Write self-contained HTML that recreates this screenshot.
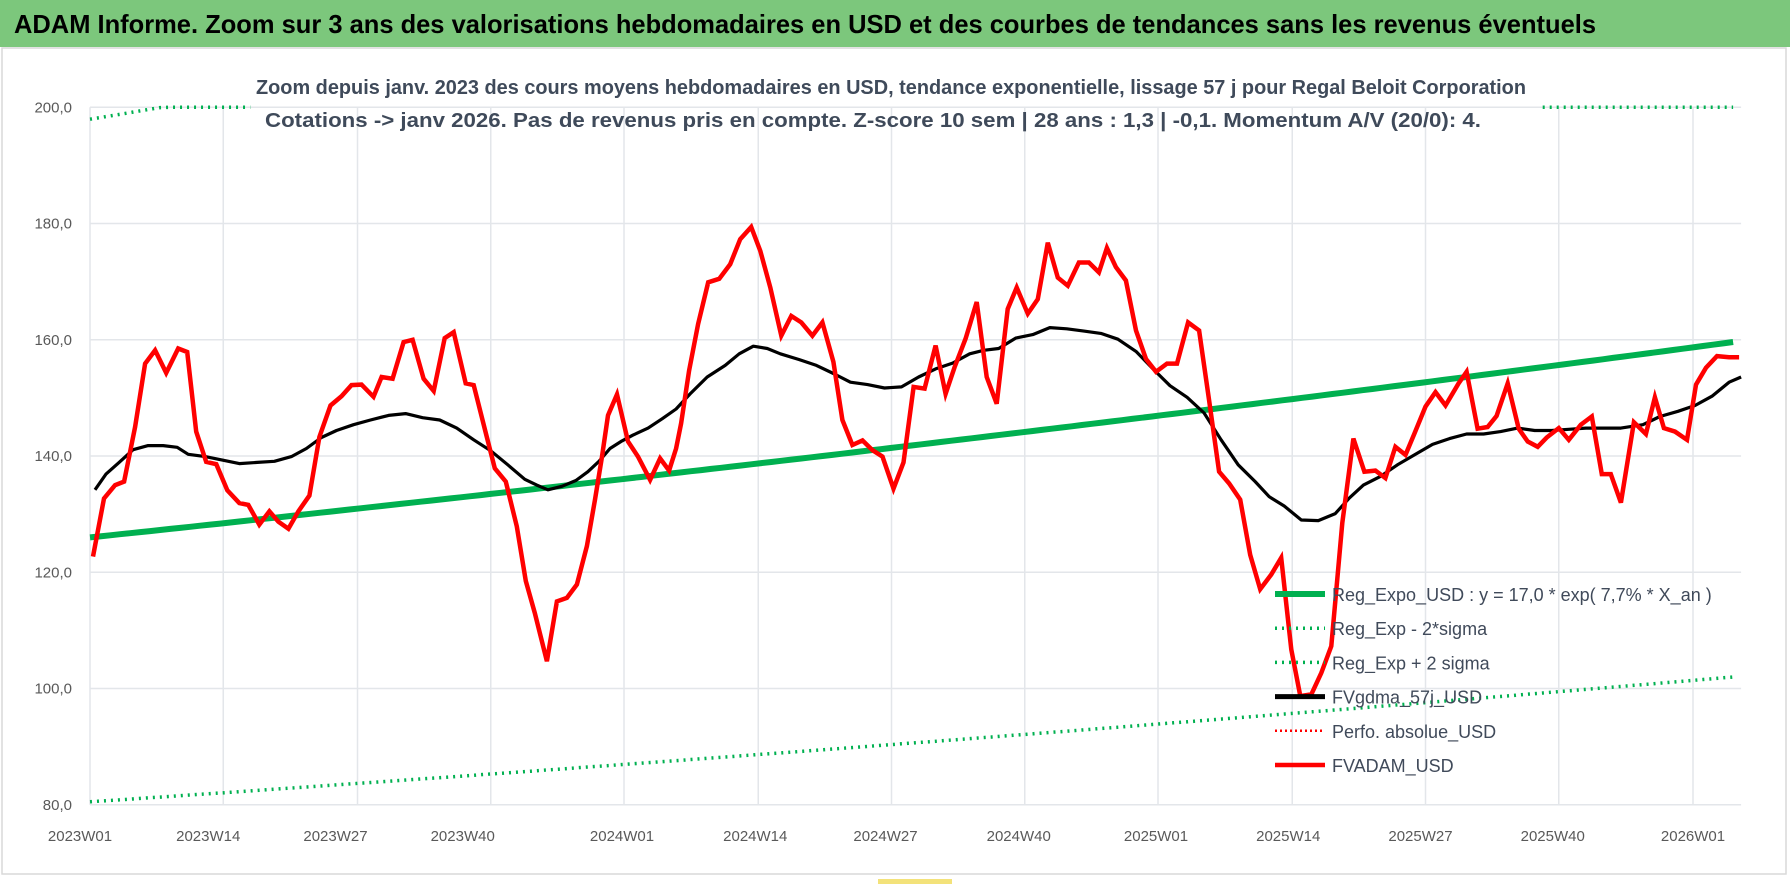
<!DOCTYPE html>
<html><head><meta charset="utf-8"><style>
html,body{margin:0;padding:0;background:#fff;}
svg{display:block;font-family:"Liberation Sans",sans-serif;}
</style></head><body>
<svg id="chart" width="1790" height="886" viewBox="0 0 1790 886">
<rect x="0" y="0" width="1790" height="886" fill="#fff"/>
<rect x="0" y="0" width="1790" height="47" fill="#7cc77c"/>
<text x="14" y="33" font-size="26" font-weight="bold" fill="#000" textLength="1582" lengthAdjust="spacingAndGlyphs">ADAM Informe. Zoom sur 3 ans des valorisations hebdomadaires en USD et des courbes de tendances sans les revenus éventuels</text>
<rect x="2" y="48" width="1784" height="826" fill="none" stroke="#d9d9d9" stroke-width="1.5"/>
<rect x="878" y="879" width="74" height="5" fill="#f3e27a"/>
<g id="grid"></g>
<text x="891" y="94" font-size="20" font-weight="bold" fill="#3f4a5a" text-anchor="middle" textLength="1270" lengthAdjust="spacingAndGlyphs">Zoom depuis janv. 2023 des cours moyens hebdomadaires en USD, tendance exponentielle, lissage 57 j pour Regal Beloit Corporation</text>
<text x="873" y="127" font-size="20" font-weight="bold" fill="#3f4a5a" text-anchor="middle" textLength="1216" lengthAdjust="spacingAndGlyphs">Cotations -&gt; janv 2026. Pas de revenus pris en compte. Z-score 10 sem | 28 ans : 1,3 | -0,1. Momentum A/V (20/0): 4.</text>
<g id="series"></g>
<g id="legend"></g>
</svg>
<script>
const yTicks = [80,100,120,140,160,180,200];
const xTickLabels = ["2023W01","2023W14","2023W27","2023W40","2024W01","2024W14","2024W27","2024W40","2025W01","2025W14","2025W27","2025W40","2026W01"];
const xTickIdx = [0,12.8,25.5,38.2,54.1,67.4,80.4,93.7,107.4,120.6,133.8,147.0,161];
const xGridIdx = [1,14.3,27.7,41.0,54.3,67.7,81.0,94.3,107.6,121.0,134.3,147.6,161.0];
const redWeeks = [1.3,2.4,3.5,4.4,5.5,6.5,7.5,8.6,9.8,10.7,11.6,12.6,13.6,14.7,15.9,16.8,17.9,18.9,19.8,20.8,21.8,22.9,23.9,25.0,26.1,27.1,28.1,29.3,30.1,31.2,32.3,33.2,34.3,35.3,36.4,37.3,38.5,39.3,40.6,41.4,42.5,43.6,44.5,45.4,46.6,47.6,48.6,49.6,50.6,51.4,52.1,52.7,53.6,54.7,55.7,56.9,57.9,58.8,59.5,60.0,60.8,61.7,62.7,63.8,64.9,65.9,67.0,67.9,68.9,70.0,71.0,72.0,73.1,74.1,75.2,76.1,77.1,78.1,79.1,80.1,81.2,82.2,83.2,84.3,85.4,86.4,87.3,88.4,89.5,90.5,91.5,92.6,93.5,94.6,95.6,96.6,97.6,98.6,99.7,100.7,101.7,102.5,103.4,104.4,105.4,106.4,107.4,108.5,109.5,110.6,111.7,112.7,113.7,114.7,115.8,116.8,117.8,118.9,119.9,120.9,121.8,122.9,123.9,124.9,126.0,127.1,128.2,129.3,130.3,131.3,132.3,133.2,134.3,135.3,136.3,137.6,138.4,139.5,140.5,141.4,142.5,143.6,144.5,145.5,146.4,147.6,148.6,149.8,150.9,151.9,152.8,153.8,155.1,156.3,157.2,158.1,159.2,160.4,161.3,162.3,163.4,164.6,165.6];
const redValues = [122.7,132.7,135.0,135.6,145.0,155.9,158.2,154.3,158.5,157.9,144.2,139.0,138.6,134.1,131.9,131.6,128.2,130.5,128.7,127.5,130.5,133.2,143.3,148.7,150.3,152.2,152.3,150.2,153.6,153.3,159.6,160.0,153.3,151.2,160.3,161.3,152.5,152.2,143.3,137.9,135.6,127.9,118.5,113.0,104.7,115.0,115.6,117.9,124.5,132.5,139.9,147.0,150.6,142.5,139.9,135.9,139.6,137.5,141.3,145.6,154.7,162.7,169.9,170.5,173.0,177.3,179.4,175.3,169.0,160.7,164.1,163.0,160.7,163.0,156.2,146.2,141.9,142.7,141.0,139.9,134.4,138.9,151.9,151.6,159.0,150.7,155.3,160.2,166.5,153.6,149.0,165.3,169.0,164.5,167.0,176.7,170.7,169.3,173.3,173.3,171.6,175.8,172.5,170.2,161.6,156.7,154.5,155.9,155.9,163.0,161.6,149.6,137.3,135.3,132.5,123.0,117.1,119.6,122.5,106.7,98.7,99.0,102.7,107.3,128.5,143.0,137.3,137.5,136.2,141.6,140.2,143.9,148.5,151.0,148.7,152.5,154.5,144.7,145.0,146.9,152.5,144.7,142.5,141.6,143.2,144.8,142.8,145.4,146.8,136.9,136.9,132.0,145.8,143.8,150.1,144.8,144.2,142.8,152.3,155.2,157.2,157.0,157.0];
const maWeeks = [1.5,2.6,3.9,5.3,6.8,8.3,9.7,10.8,12.5,14.2,15.9,17.7,19.4,21.1,22.6,24.1,25.6,27.3,29.0,30.8,32.5,34.2,35.9,37.6,39.3,41.0,42.7,44.4,45.6,46.7,48.1,49.5,50.7,51.8,52.9,54.1,55.2,56.7,58.1,59.5,60.9,62.6,64.4,65.8,67.2,68.6,69.9,71.8,73.5,75.2,76.9,78.6,80.3,82.0,83.7,85.4,87.1,88.8,90.2,91.7,93.4,95.1,96.8,98.5,100.2,101.9,103.6,105.4,107.1,108.8,110.5,112.2,113.9,115.6,117.3,118.7,120.2,121.9,123.6,125.3,126.7,128.1,129.8,131.5,133.3,135.0,136.7,138.4,140.1,141.8,143.5,145.2,146.9,148.6,150.3,152.1,153.8,156.0,157.7,159.5,161.2,162.9,164.6,165.8];
const maValues = [134.2,136.9,138.9,141.1,141.8,141.8,141.5,140.3,139.9,139.3,138.7,138.9,139.1,139.9,141.3,143.2,144.4,145.4,146.2,147.0,147.3,146.6,146.2,144.8,142.8,140.9,138.5,136.0,135.0,134.2,134.8,135.8,137.3,139.1,141.3,142.6,143.6,144.8,146.4,148.1,150.7,153.6,155.6,157.6,158.9,158.5,157.6,156.6,155.6,154.2,152.7,152.3,151.7,151.9,153.6,155.0,156.0,157.6,158.2,158.5,160.3,160.9,162.1,161.9,161.5,161.1,160.1,158.0,155.0,152.1,150.1,147.4,142.8,138.5,135.6,133.0,131.4,129.0,128.9,130.1,132.8,135.0,136.5,138.5,140.3,142.0,143.0,143.8,143.8,144.2,144.8,144.4,144.4,144.6,144.8,144.8,144.8,145.4,146.8,147.7,148.7,150.3,152.7,153.6];
const regStart = 126.0, regEnd = 159.8, firstWeek = 1, lastWeek = 165.8;
const bandLowFactor = 0.639, bandHighFactor = 1.571;
const legendLabels = ["Reg_Expo_USD : y = 17,0 * exp( 7,7% *  X_an )","Reg_Exp - 2*sigma","Reg_Exp + 2 sigma","FVgdma_57j_USD","Perfo. absolue_USD","FVADAM_USD"];

const NS="http://www.w3.org/2000/svg";
const X0=80, X1=1693, I1=161, Y0=107.3, PXV=697.5/120;
function xs(w){return X0+w*(X1-X0)/I1;}
function ys(v){return Y0+(200-v)*PXV;}
function mk(tag,attrs,parent){const e=document.createElementNS(NS,tag);for(const k in attrs)e.setAttribute(k,attrs[k]);parent.appendChild(e);return e;}
const grid=document.getElementById('grid'), series=document.getElementById('series'), legend=document.getElementById('legend');
const xEnd=xs(lastWeek);
yTicks.forEach(v=>{
  const l=mk('line',{x1:xs(xGridIdx[0]),x2:xEnd,y1:ys(v),y2:ys(v),stroke:'#e3e6ea','stroke-width':1.5},grid);
  
  
  const t=mk('text',{x:72,y:ys(v)+5,'font-size':15,fill:'#595959','text-anchor':'end'},grid);
  t.textContent=v.toFixed(1).replace('.',',');
  
  
});
xGridIdx.forEach(w=>{
  const l=mk('line',{x1:xs(w),x2:xs(w),y1:ys(200),y2:ys(80),stroke:'#e3e6ea','stroke-width':1.5},grid);
  
  
});
xTickIdx.forEach((w,i)=>{
  const t=mk('text',{x:xs(w),y:841,'font-size':15,fill:'#595959','text-anchor':'middle'},grid);
  t.textContent=xTickLabels[i];
  
  
});
function reg(w){return regStart*Math.pow(regEnd/regStart,(w-firstWeek)/(lastWeek-firstWeek));}
function pathFrom(ws,vs){return ws.map((w,i)=>(i?'L':'M')+xs(w).toFixed(1)+','+ys(vs[i]).toFixed(1)).join('');}
const regW=[],regV=[],lowV=[];
for(let w=firstWeek;w<=lastWeek+0.01;w+=1){regW.push(w);regV.push(reg(w));lowV.push(reg(w)*bandLowFactor);}
const hiLW=regW.filter(w=>w<=17), hiRW=regW.filter(w=>w>=146);
const pLow=mk('path',{d:pathFrom(regW,lowV),fill:'none',stroke:'#00b050','stroke-width':3.5,'stroke-dasharray':'2 5'},series);


const pHiL=mk('path',{d:pathFrom(hiLW,hiLW.map(w=>Math.min(200,reg(w)*bandHighFactor))),fill:'none',stroke:'#00b050','stroke-width':3.5,'stroke-dasharray':'2 5'},series);


const pHiR=mk('path',{d:pathFrom(hiRW,hiRW.map(w=>Math.min(200,reg(w)*bandHighFactor))),fill:'none',stroke:'#00b050','stroke-width':3.5,'stroke-dasharray':'2 5'},series);


const pReg=mk('path',{d:pathFrom(regW,regV),fill:'none',stroke:'#00b050','stroke-width':6,'stroke-linejoin':'round'},series);


const pMa=mk('path',{d:pathFrom(maWeeks,maValues),fill:'none',stroke:'#000','stroke-width':3.2,'stroke-linejoin':'round'},series);


const pRed=mk('path',{d:pathFrom(redWeeks,redValues),fill:'none',stroke:'#ff0000','stroke-width':4.5,'stroke-linejoin':'miter'},series);


const legStyles=[{s:'#00b050',w:6,d:''},{s:'#00b050',w:3.5,d:'2 5'},{s:'#00b050',w:3.5,d:'2 5'},{s:'#000',w:5,d:''},{s:'#ff0000',w:2.5,d:'2 3'},{s:'#ff0000',w:4.5,d:''}];
legendLabels.forEach((lab,i)=>{
  const y=594+i*34.2;
  const l=mk('line',{x1:1275,x2:1325,y1:y,y2:y,stroke:legStyles[i].s,'stroke-width':legStyles[i].w,'stroke-dasharray':legStyles[i].d},legend);
  
  
  const t=mk('text',{x:1332,y:y+7,'font-size':18,fill:'#404a5a'},legend);
  t.textContent=lab;
  
  
});
</script>
</body></html>
